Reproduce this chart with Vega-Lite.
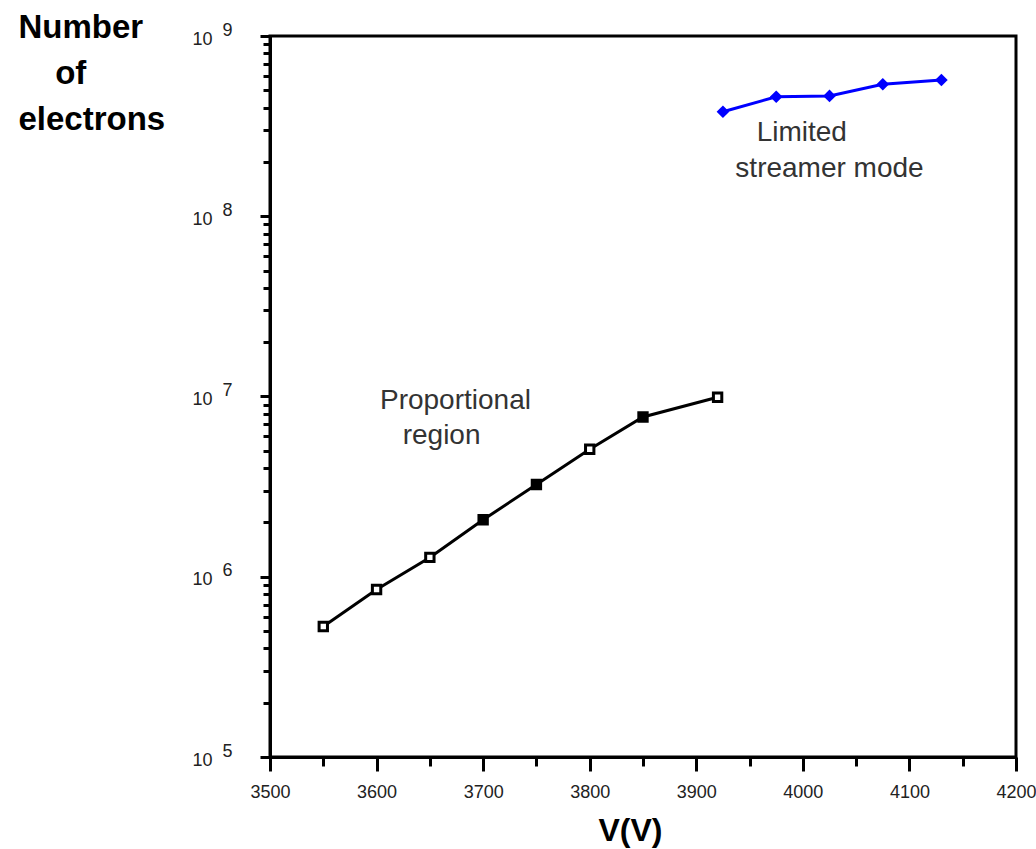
{
  "$schema": "https://vega.github.io/schema/vega-lite/v6.json",
  "width": 746,
  "height": 721,
  "autosize": {"type": "none"},
  "padding": {"left": 270, "top": 36, "right": 20, "bottom": 92},
  "background": "white",
  "config": {
    "font": "Liberation Sans",
    "view": {"stroke": "black", "strokeWidth": 3},
    "axis": {"grid": false, "domainColor": "black", "domainWidth": 3, "tickColor": "black", "labelColor": "#222", "titleColor": "black"}
  },
  "datasets": {
    "points": [
      {"V": 3550, "N": 530000, "mode": "Proportional region", "set": "A"},
      {"V": 3600, "N": 850000, "mode": "Proportional region", "set": "A"},
      {"V": 3650, "N": 1280000, "mode": "Proportional region", "set": "A"},
      {"V": 3700, "N": 2070000, "mode": "Proportional region", "set": "B"},
      {"V": 3750, "N": 3250000, "mode": "Proportional region", "set": "B"},
      {"V": 3800, "N": 5100000, "mode": "Proportional region", "set": "A"},
      {"V": 3850, "N": 7700000, "mode": "Proportional region", "set": "B"},
      {"V": 3920, "N": 9900000, "mode": "Proportional region", "set": "A"},
      {"V": 3925, "N": 380000000, "mode": "Limited streamer mode", "set": "C"},
      {"V": 3975, "N": 460000000, "mode": "Limited streamer mode", "set": "C"},
      {"V": 4025, "N": 465000000, "mode": "Limited streamer mode", "set": "C"},
      {"V": 4075, "N": 540000000, "mode": "Limited streamer mode", "set": "C"},
      {"V": 4130, "N": 570000000, "mode": "Limited streamer mode", "set": "C"}
    ],
    "notes": [
      {"V": 3674, "N": 8470000, "note": "Proportional"},
      {"V": 3661, "N": 5480000, "note": "region"},
      {"V": 3999, "N": 261000000, "note": "Limited"},
      {"V": 4025, "N": 165000000, "note": "streamer mode"}
    ]
  },
  "data": {"name": "points"},
  "encoding": {
    "x": {
      "field": "V",
      "type": "quantitative",
      "scale": {"domain": [3500, 4200], "nice": false, "zero": false},
      "axis": {
        "values": [3500, 3550, 3600, 3650, 3700, 3750, 3800, 3850, 3900, 3950, 4000, 4050, 4100, 4150, 4200],
        "format": "d",
        "labelExpr": "datum.value % 100 == 0 ? datum.label : ''",
        "labelFlush": false,
        "labelOverlap": false,
        "labelFontSize": 18,
        "labelPadding": 12,
        "tickWidth": 3,
        "tickSize": {"condition": {"test": "datum.value % 100 == 0", "value": 14}, "value": 9},
        "title": "V(V)",
        "titleFontSize": 32,
        "titleFontWeight": "bold",
        "titleX": 360,
        "titleY": 83,
        "titleBaseline": "alphabetic"
      }
    },
    "y": {
      "field": "N",
      "type": "quantitative",
      "scale": {"type": "log", "domain": [100000, 1000000000], "nice": false},
      "axis": {
        "values": [100000, 200000, 300000, 400000, 500000, 600000, 700000, 800000, 900000,
                   1000000, 2000000, 3000000, 4000000, 5000000, 6000000, 7000000, 8000000, 9000000,
                   10000000, 20000000, 30000000, 40000000, 50000000, 60000000, 70000000, 80000000, 90000000,
                   100000000, 200000000, 300000000, 400000000, 500000000, 600000000, 700000000, 800000000, 900000000,
                   1000000000],
        "labelExpr": "abs(log(datum.value)/LN10 - round(log(datum.value)/LN10)) < 0.001 ? ['' + round(log(datum.value)/LN10), '10\u00a0\u00a0\u00a0\u00a0\u200b'] : ''",
        "labelOverlap": false,
        "labelFlush": false,
        "labelFontSize": 18,
        "labelLineHeight": 9,
        "labelBaseline": "middle",
        "labelOffset": -6,
        "labelPadding": 28,
        "tickWidth": 3,
        "tickSize": {"condition": {"test": "abs(log(datum.value)/LN10 - round(log(datum.value)/LN10)) < 0.001", "value": 10}, "value": 7},
        "title": ["Number", "\u200b\u00a0\u00a0\u00a0\u00a0of", "electrons"],
        "titleAngle": 0,
        "titleAlign": "left",
        "titleBaseline": "alphabetic",
        "titleX": -252,
        "titleY": 1,
        "titleFontSize": 33,
        "titleFontWeight": "bold",
        "titleLineHeight": 46
      }
    }
  },
  "layer": [
    {
      "mark": {"type": "line", "strokeWidth": 3},
      "encoding": {
        "color": {"field": "mode", "type": "nominal", "scale": {"domain": ["Proportional region", "Limited streamer mode"], "range": ["black", "#0000ff"]}, "legend": null}
      }
    },
    {
      "transform": [{"filter": "datum.mode == 'Proportional region'"}],
      "mark": {"type": "square", "size": 70, "stroke": "black", "strokeWidth": 3, "opacity": 1},
      "encoding": {
        "fill": {"field": "set", "type": "nominal", "scale": {"domain": ["A", "B"], "range": ["white", "black"]}, "legend": null}
      }
    },
    {
      "transform": [{"filter": "datum.mode == 'Limited streamer mode'"}],
      "mark": {"type": "point", "shape": "diamond", "filled": true, "size": 160, "color": "#0000ff", "opacity": 1},
      "encoding": {}
    },
    {
      "data": {"name": "notes"},
      "mark": {"type": "text", "fontSize": 28, "color": "#333", "align": "center", "baseline": "alphabetic"},
      "encoding": {"text": {"field": "note"}}
    }
  ]
}
